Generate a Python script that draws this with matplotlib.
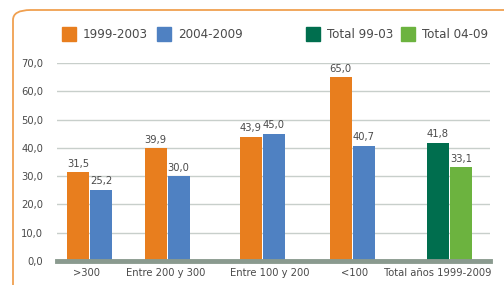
import matplotlib.pyplot as plt
from matplotlib.patches import FancyBboxPatch, Rectangle

categories = [">300", "Entre 200 y 300", "Entre 100 y 200", "<100", "Total años 1999-2009"]
serie_9903 = [31.5, 39.9, 43.9, 65.0, 41.8]
serie_0409 = [25.2, 30.0, 45.0, 40.7, 33.1]
legend_labels = ["1999-2003", "2004-2009", "Total 99-03", "Total 04-09"]
yticks = [0, 10, 20, 30, 40, 50, 60, 70]

ORANGE = "#E87E1E"
BLUE = "#4F81C2"
DKGREEN = "#006E4E"
LTGREEN = "#6CB33F"
TXT = "#4a4a4a"

plt.rcParams["font.family"] = ["DejaVu Sans"]
plt.rcParams["font.stretch"] = "condensed"

fig = plt.figure(figsize=(5.04, 2.85), dpi=100)
W, H = 504, 285

# orange frame, rounded top-left corner (right/bottom edges fall outside)
frame = FancyBboxPatch((13 / W, -0.2), 1.2, (H - 10) / H + 0.2,
                       boxstyle="round,pad=0,rounding_size=0.035",
                       transform=fig.transFigure, fill=False,
                       edgecolor="#F0A050", linewidth=1.3, clip_on=False)
fig.patches.append(frame)

ax = fig.add_axes([57 / W, (H - 261) / H, (490 - 57) / W, (261 - 63) / H])

# group centres (px from left edge of axes), bar width in the same units
pos = [32.5, 110, 205.5, 295, 392.5]
label_pos = [30, 109, 213, 298, 381]
bw = 22
off = 11.5

for i, (a, b) in enumerate(zip(serie_9903, serie_0409)):
    c1, c2 = (ORANGE, BLUE) if i < 4 else (DKGREEN, LTGREEN)
    ax.bar(pos[i] - off, a, bw, color=c1, zorder=3)
    ax.bar(pos[i] + off, b, bw, color=c2, zorder=3)
    ax.text(pos[i] - off, a + 1.2, f"{a:.1f}".replace(".", ","), ha="center",
            va="bottom", fontsize=8, color=TXT)
    ax.text(pos[i] + off, b + 1.2, f"{b:.1f}".replace(".", ","), ha="center",
            va="bottom", fontsize=8, color=TXT)

ax.set_xlim(0, 433)
ax.set_ylim(0, 70)
ax.set_yticks(yticks)
ax.set_yticklabels([f"{v:.1f}".replace(".", ",") for v in yticks], fontsize=8, color=TXT)
ax.set_xticks(label_pos)
ax.set_xticklabels(categories, fontsize=8, color=TXT)
ax.tick_params(length=0, pad=5)
ax.tick_params(axis="y", pad=10)
ax.grid(axis="y", color="#c8cfcb", linewidth=1, zorder=0)
for s in ax.spines.values():
    s.set_visible(False)
ax.axhline(0, color="#8A9A8F", linewidth=3.5, zorder=4, clip_on=False)

# legend
leg_x = [62, 157, 306, 401]
leg_c = [ORANGE, BLUE, DKGREEN, LTGREEN]
for x, c, lab in zip(leg_x, leg_c, legend_labels):
    fig.patches.append(Rectangle((x / W, (H - 41) / H), 14 / W, 14 / H,
                                 transform=fig.transFigure, color=c))
    fig.text((x + 21) / W, (H - 34) / H, lab, fontsize=9.5, color=TXT, va="center")

fig.savefig("out.png", dpi=100)
